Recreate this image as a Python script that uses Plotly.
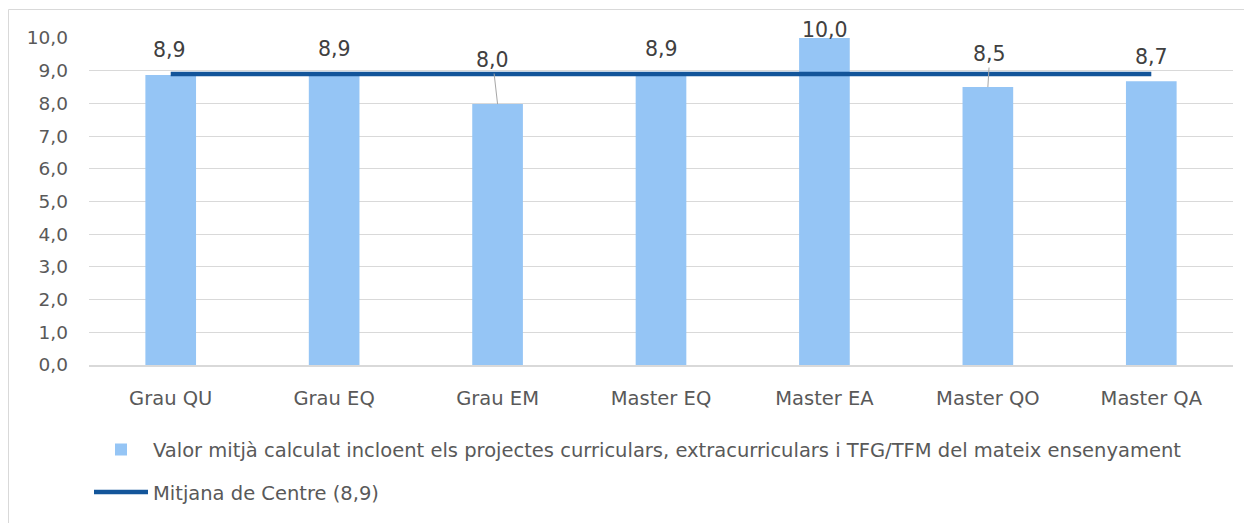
import plotly.graph_objects as go

categories = ["Grau QU", "Grau EQ", "Grau EM", "Master EQ", "Master EA", "Master QO", "Master QA"]
values = [8.87, 8.9, 7.98, 8.9, 10.0, 8.5, 8.68]
labels = ["8,9", "8,9", "8,0", "8,9", "10,0", "8,5", "8,7"]
centre_mean = 8.9
bar_name = "Valor mitjà calculat incloent els projectes curriculars, extracurriculars i TFG/TFM del mateix ensenyament"
line_name = "Mitjana de Centre (8,9)"

# label placement offsets (pixels) and whether a leader line is drawn
label_dy = [-25, -25, -44, -25, -8, -33, -24]
label_dx = [-1, 0, -5, 0, 1, 2, 0]
leader = [False, False, True, False, False, True, False]

FONT = "DejaVu Sans"
# page is rendered with an 8px body offset
W, H = 1244, 515
ml, mr, mt, mb = 81, 19, 30, 158

fig = go.Figure()
fig.add_trace(go.Bar(
    x=categories, y=values, name=bar_name,
    marker=dict(color="#95c5f5", line=dict(width=0)),
    legendgroup="a",
))
fig.add_trace(go.Scatter(
    x=categories, y=[centre_mean] * len(categories), name=line_name,
    mode="lines", line=dict(color="#13559a", width=4.5),
    legendgroup="b",
))

for c, v, t, dy, dx, ld in zip(categories, values, labels, label_dy, label_dx, leader):
    if ld:
        fig.add_annotation(x=c, y=v, text=t, showarrow=True, arrowhead=0,
                           arrowwidth=1, arrowcolor="#a6a6a6", ax=dx, ay=dy,
                           standoff=0, font=dict(family=FONT, size=20.5, color="#404040"))
    else:
        fig.add_annotation(x=c, y=v, text=t, showarrow=False,
                           xshift=dx, yshift=-dy,
                           font=dict(family=FONT, size=20.5, color="#404040"))

pw = W - ml - mr
ph = H - mt - mb
fig.add_shape(type="rect", xref="paper", yref="paper",
              x0=(0.5 - ml) / pw, x1=(W + 5 - ml) / pw,
              y0=-(mb + 5) / ph, y1=(H - mb - 1.5) / ph,
              line=dict(color="#d9d9d9", width=1), fillcolor="rgba(0,0,0,0)", layer="below")

fig.update_layout(
    width=W, height=H,
    margin=dict(l=ml, r=mr, t=mt, b=mb, autoexpand=False),
    paper_bgcolor="white", plot_bgcolor="white",
    separators=",.",
    bargap=0.69,
    font=dict(family=FONT, size=16, color="#595959"),
    showlegend=True,
    legend=dict(orientation="v", x=0.0, xanchor="left", y=-0.2, yanchor="top",
                traceorder="grouped", tracegroupgap=14, itemwidth=54,
                font=dict(family=FONT, size=19.5, color="#595959"),
                bgcolor="rgba(0,0,0,0)"),
    xaxis=dict(showgrid=False, showline=True, linecolor="#d9d9d9", linewidth=1.5,
               ticks="", ticklabelstandoff=15, tickfont=dict(size=19.5, color="#595959"),
               automargin=False, fixedrange=True),
    yaxis=dict(range=[0, 10], dtick=1, tickformat=".1f", showgrid=True,
               gridcolor="#d9d9d9", gridwidth=1.3, zeroline=False, showline=False,
               ticks="", ticklabelstandoff=20, tickfont=dict(size=18.5, color="#595959"),
               automargin=False, fixedrange=True),
)

fig.write_html("out.html")
